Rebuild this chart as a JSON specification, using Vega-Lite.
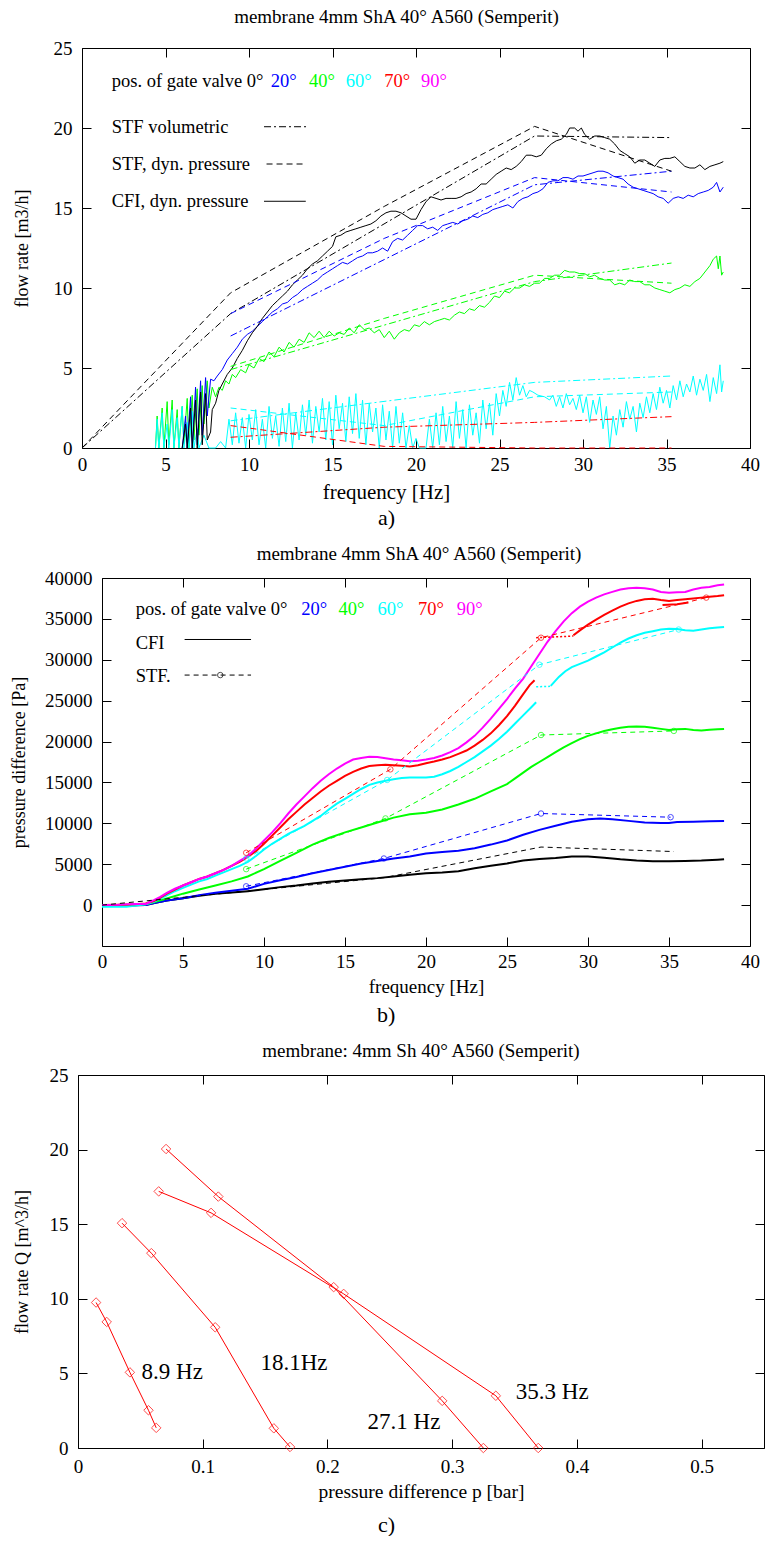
{
"$schema":"https://vega.github.io/schema/vega-lite/v6.json",
"background":"white",
"padding":{"left":10,"top":7,"right":0,"bottom":0},
"spacing":16,
"columns":1,
"datasets":{
"a_cfi":[
{"s":"40°","f":4.4,"q":0},{"s":"40°","f":4.5,"q":2.0},{"s":"40°","f":4.6,"q":0},{"s":"40°","f":4.8,"q":2.5},{"s":"40°","f":4.9,"q":0},{"s":"40°","f":5.1,"q":2.9},{"s":"40°","f":5.2,"q":0.2},{"s":"40°","f":5.4,"q":3.0},{"s":"40°","f":5.5,"q":0},{"s":"40°","f":5.7,"q":2.4},{"s":"40°","f":5.8,"q":0},{"s":"40°","f":6.0,"q":2.6},{"s":"40°","f":6.1,"q":0.3},{"s":"40°","f":6.3,"q":3.1},{"s":"40°","f":6.4,"q":0},{"s":"40°","f":6.6,"q":3.3},{"s":"40°","f":6.7,"q":0.5},{"s":"40°","f":6.9,"q":3.7},{"s":"40°","f":7.0,"q":0.8},{"s":"40°","f":7.2,"q":3.9},{"s":"40°","f":7.3,"q":1.5},{"s":"40°","f":7.5,"q":4.2},{"s":"40°","f":7.6,"q":2.5},{"s":"40°","f":7.8,"q":3.8},{"s":"40°","f":8.0,"q":3.2},{"s":"40°","f":8.2,"q":3.8},{"s":"40°","f":8.4,"q":3.6},{"s":"40°","f":8.6,"q":4.2},{"s":"40°","f":8.8,"q":4.0},{"s":"40°","f":9.0,"q":4.6},{"s":"40°","f":9.2,"q":4.4},{"s":"40°","f":9.5,"q":4.9},{"s":"40°","f":9.8,"q":4.7},{"s":"40°","f":10.0,"q":5.2},{"s":"40°","f":10.3,"q":5.0},{"s":"40°","f":10.6,"q":5.6},{"s":"40°","f":10.9,"q":5.4},{"s":"40°","f":11.2,"q":6.0},{"s":"40°","f":11.5,"q":5.7},{"s":"40°","f":11.8,"q":6.3},{"s":"40°","f":12.1,"q":6.0},{"s":"40°","f":12.4,"q":6.6},{"s":"40°","f":12.7,"q":6.3},{"s":"40°","f":13.0,"q":6.8},{"s":"40°","f":13.3,"q":6.6},{"s":"40°","f":13.6,"q":7.2},{"s":"40°","f":13.9,"q":6.9},{"s":"40°","f":14.2,"q":7.3},{"s":"40°","f":14.5,"q":6.9},{"s":"40°","f":14.8,"q":7.3},{"s":"40°","f":15.1,"q":7.0},{"s":"40°","f":15.4,"q":7.2},{"s":"40°","f":15.7,"q":7.1},{"s":"40°","f":16.0,"q":7.5},{"s":"40°","f":16.3,"q":7.2},{"s":"40°","f":16.6,"q":7.7},{"s":"40°","f":16.9,"q":7.4},{"s":"40°","f":17.2,"q":7.5},{"s":"40°","f":17.5,"q":7.2},{"s":"40°","f":17.8,"q":7.4},{"s":"40°","f":18.1,"q":6.9},{"s":"40°","f":18.4,"q":7.3},{"s":"40°","f":18.7,"q":6.8},{"s":"40°","f":19.0,"q":7.2},{"s":"40°","f":19.3,"q":7.4},{"s":"40°","f":19.6,"q":7.3},{"s":"40°","f":19.9,"q":7.7},{"s":"40°","f":20.2,"q":7.6},{"s":"40°","f":20.5,"q":7.9},{"s":"40°","f":20.8,"q":7.7},{"s":"40°","f":21.1,"q":7.9},{"s":"40°","f":21.4,"q":8.0},{"s":"40°","f":21.7,"q":8.1},{"s":"40°","f":22.0,"q":8.0},{"s":"40°","f":22.3,"q":8.3},{"s":"40°","f":22.6,"q":8.5},{"s":"40°","f":22.9,"q":8.4},{"s":"40°","f":23.2,"q":8.7},{"s":"40°","f":23.5,"q":8.6},{"s":"40°","f":23.8,"q":8.9},{"s":"40°","f":24.1,"q":8.8},{"s":"40°","f":24.4,"q":9.1},{"s":"40°","f":24.7,"q":9.5},{"s":"40°","f":25.0,"q":9.4},{"s":"40°","f":25.3,"q":9.8},{"s":"40°","f":25.6,"q":9.7},{"s":"40°","f":25.9,"q":10.0},{"s":"40°","f":26.2,"q":10.0},{"s":"40°","f":26.5,"q":10.2},{"s":"40°","f":26.8,"q":10.1},{"s":"40°","f":27.1,"q":10.3},{"s":"40°","f":27.4,"q":10.3},{"s":"40°","f":27.7,"q":10.6},{"s":"40°","f":28.0,"q":10.6},{"s":"40°","f":28.3,"q":10.8},{"s":"40°","f":28.6,"q":10.8},{"s":"40°","f":28.9,"q":11.1},{"s":"40°","f":29.2,"q":11.0},{"s":"40°","f":29.5,"q":11.0},{"s":"40°","f":29.8,"q":10.9},{"s":"40°","f":30.1,"q":10.9},{"s":"40°","f":30.4,"q":10.7},{"s":"40°","f":30.7,"q":10.8},{"s":"40°","f":31.0,"q":10.6},{"s":"40°","f":31.3,"q":10.5},{"s":"40°","f":31.6,"q":10.5},{"s":"40°","f":31.9,"q":10.2},{"s":"40°","f":32.2,"q":10.3},{"s":"40°","f":32.5,"q":10.2},{"s":"40°","f":32.8,"q":10.5},{"s":"40°","f":33.1,"q":10.4},{"s":"40°","f":33.4,"q":10.4},{"s":"40°","f":33.7,"q":10.2},{"s":"40°","f":34.0,"q":10.2},{"s":"40°","f":34.3,"q":10.0},{"s":"40°","f":34.6,"q":9.9},{"s":"40°","f":34.9,"q":9.8},{"s":"40°","f":35.2,"q":9.7},{"s":"40°","f":35.5,"q":9.9},{"s":"40°","f":35.8,"q":10.0},{"s":"40°","f":36.1,"q":10.2},{"s":"40°","f":36.4,"q":10.1},{"s":"40°","f":36.7,"q":10.4},{"s":"40°","f":37.0,"q":10.6},{"s":"40°","f":37.3,"q":11.0},{"s":"40°","f":37.6,"q":11.4},{"s":"40°","f":37.8,"q":11.8},{"s":"40°","f":38.0,"q":12.0},{"s":"40°","f":38.1,"q":11.2},{"s":"40°","f":38.2,"q":12.0},{"s":"40°","f":38.3,"q":10.8},{"s":"40°","f":38.4,"q":11.0},
{"s":"60°","f":4.4,"q":0},{"s":"60°","f":4.5,"q":1.8},{"s":"60°","f":4.6,"q":0},{"s":"60°","f":4.8,"q":2.2},{"s":"60°","f":4.9,"q":0},{"s":"60°","f":5.1,"q":1.5},{"s":"60°","f":5.2,"q":0},{"s":"60°","f":5.4,"q":2.4},{"s":"60°","f":5.5,"q":0},{"s":"60°","f":5.7,"q":1.9},{"s":"60°","f":5.8,"q":0},{"s":"60°","f":6.0,"q":2.6},{"s":"60°","f":6.1,"q":0},{"s":"60°","f":6.3,"q":1.6},{"s":"60°","f":6.4,"q":0},{"s":"60°","f":6.6,"q":2.3},{"s":"60°","f":6.7,"q":0},{"s":"60°","f":6.9,"q":1.2},{"s":"60°","f":7.0,"q":0},{"s":"60°","f":7.3,"q":0.8},{"s":"60°","f":7.6,"q":0},{"s":"60°","f":8.0,"q":0},{"s":"60°","f":8.3,"q":0.4},{"s":"60°","f":8.6,"q":0},{"s":"60°","f":8.8,"q":1.8},{"s":"60°","f":9.0,"q":0.2},{"s":"60°","f":9.2,"q":2.2},{"s":"60°","f":9.4,"q":0.3},{"s":"60°","f":9.6,"q":1.9},{"s":"60°","f":9.8,"q":0},{"s":"60°","f":10.0,"q":2.1},{"s":"60°","f":10.2,"q":0.5},{"s":"60°","f":10.4,"q":2.4},{"s":"60°","f":10.6,"q":0.2},{"s":"60°","f":10.8,"q":1.8},{"s":"60°","f":11.0,"q":0},{"s":"60°","f":11.2,"q":2.6},{"s":"60°","f":11.4,"q":0.6},{"s":"60°","f":11.6,"q":2.0},{"s":"60°","f":11.8,"q":0.1},{"s":"60°","f":12.0,"q":2.5},{"s":"60°","f":12.2,"q":0.4},{"s":"60°","f":12.4,"q":2.8},{"s":"60°","f":12.6,"q":0},{"s":"60°","f":12.8,"q":2.2},{"s":"60°","f":13.0,"q":0.5},{"s":"60°","f":13.2,"q":2.7},{"s":"60°","f":13.4,"q":0.8},{"s":"60°","f":13.6,"q":3.0},{"s":"60°","f":13.8,"q":0.3},{"s":"60°","f":14.0,"q":2.6},{"s":"60°","f":14.2,"q":1.0},{"s":"60°","f":14.4,"q":3.1},{"s":"60°","f":14.6,"q":0.5},{"s":"60°","f":14.8,"q":2.9},{"s":"60°","f":15.0,"q":0.2},{"s":"60°","f":15.2,"q":3.3},{"s":"60°","f":15.4,"q":1.2},{"s":"60°","f":15.6,"q":2.8},{"s":"60°","f":15.8,"q":0.4},{"s":"60°","f":16.0,"q":3.2},{"s":"60°","f":16.2,"q":0.9},{"s":"60°","f":16.4,"q":3.4},{"s":"60°","f":16.6,"q":0.6},{"s":"60°","f":16.8,"q":3.0},{"s":"60°","f":17.0,"q":0.2},{"s":"60°","f":17.2,"q":2.8},{"s":"60°","f":17.4,"q":1.0},{"s":"60°","f":17.6,"q":2.5},{"s":"60°","f":17.8,"q":0},{"s":"60°","f":18.0,"q":2.7},{"s":"60°","f":18.2,"q":0.5},{"s":"60°","f":18.4,"q":2.3},{"s":"60°","f":18.6,"q":0},{"s":"60°","f":18.8,"q":2.6},{"s":"60°","f":19.0,"q":0.3},{"s":"60°","f":19.2,"q":2.2},{"s":"60°","f":19.4,"q":0},{"s":"60°","f":19.6,"q":1.4},{"s":"60°","f":19.8,"q":0},{"s":"60°","f":20.0,"q":0.6},{"s":"60°","f":20.2,"q":0},{"s":"60°","f":20.6,"q":0},{"s":"60°","f":20.8,"q":1.8},{"s":"60°","f":21.0,"q":0},{"s":"60°","f":21.2,"q":2.2},{"s":"60°","f":21.4,"q":0.2},{"s":"60°","f":21.6,"q":2.6},{"s":"60°","f":21.8,"q":0.4},{"s":"60°","f":22.0,"q":2.0},{"s":"60°","f":22.2,"q":0},{"s":"60°","f":22.4,"q":2.9},{"s":"60°","f":22.6,"q":0.6},{"s":"60°","f":22.8,"q":2.4},{"s":"60°","f":23.0,"q":0},{"s":"60°","f":23.2,"q":2.7},{"s":"60°","f":23.4,"q":0.8},{"s":"60°","f":23.6,"q":2.2},{"s":"60°","f":23.8,"q":0.3},{"s":"60°","f":24.0,"q":3.0},{"s":"60°","f":24.2,"q":1.2},{"s":"60°","f":24.4,"q":2.8},{"s":"60°","f":24.6,"q":0.8},{"s":"60°","f":24.8,"q":3.4},{"s":"60°","f":25.0,"q":2.0},{"s":"60°","f":25.2,"q":3.6},{"s":"60°","f":25.4,"q":2.6},{"s":"60°","f":25.6,"q":4.1},{"s":"60°","f":25.8,"q":3.0},{"s":"60°","f":26.0,"q":4.4},{"s":"60°","f":26.2,"q":3.3},{"s":"60°","f":26.4,"q":3.9},{"s":"60°","f":26.6,"q":3.2},{"s":"60°","f":26.8,"q":3.6},{"s":"60°","f":27.0,"q":3.5},{"s":"60°","f":27.3,"q":3.3},{"s":"60°","f":27.7,"q":3.2},{"s":"60°","f":28.0,"q":3.0},{"s":"60°","f":28.2,"q":3.3},{"s":"60°","f":28.4,"q":2.6},{"s":"60°","f":28.6,"q":3.2},{"s":"60°","f":28.8,"q":2.5},{"s":"60°","f":29.0,"q":3.4},{"s":"60°","f":29.2,"q":2.7},{"s":"60°","f":29.4,"q":3.1},{"s":"60°","f":29.6,"q":2.4},{"s":"60°","f":29.8,"q":3.3},{"s":"60°","f":30.0,"q":2.2},{"s":"60°","f":30.2,"q":3.2},{"s":"60°","f":30.4,"q":1.6},{"s":"60°","f":30.6,"q":3.0},{"s":"60°","f":30.8,"q":2.1},{"s":"60°","f":31.0,"q":3.2},{"s":"60°","f":31.2,"q":1.2},{"s":"60°","f":31.4,"q":2.6},{"s":"60°","f":31.6,"q":0},{"s":"60°","f":31.8,"q":2.0},{"s":"60°","f":32.0,"q":0.8},{"s":"60°","f":32.2,"q":2.4},{"s":"60°","f":32.4,"q":1.3},{"s":"60°","f":32.6,"q":2.9},{"s":"60°","f":32.8,"q":1.8},{"s":"60°","f":33.0,"q":2.6},{"s":"60°","f":33.2,"q":1.0},{"s":"60°","f":33.4,"q":2.8},{"s":"60°","f":33.6,"q":1.9},{"s":"60°","f":33.8,"q":3.2},{"s":"60°","f":34.0,"q":2.2},{"s":"60°","f":34.2,"q":3.4},{"s":"60°","f":34.4,"q":2.4},{"s":"60°","f":34.6,"q":3.8},{"s":"60°","f":34.8,"q":2.8},{"s":"60°","f":35.0,"q":3.6},{"s":"60°","f":35.2,"q":2.5},{"s":"60°","f":35.4,"q":3.9},{"s":"60°","f":35.6,"q":3.0},{"s":"60°","f":35.8,"q":4.2},{"s":"60°","f":36.0,"q":3.2},{"s":"60°","f":36.2,"q":4.0},{"s":"60°","f":36.4,"q":3.5},{"s":"60°","f":36.6,"q":4.5},{"s":"60°","f":36.8,"q":3.3},{"s":"60°","f":37.0,"q":4.3},{"s":"60°","f":37.2,"q":3.6},{"s":"60°","f":37.4,"q":4.6},{"s":"60°","f":37.6,"q":2.9},{"s":"60°","f":37.8,"q":4.4},{"s":"60°","f":38.0,"q":3.4},{"s":"60°","f":38.2,"q":5.2},{"s":"60°","f":38.3,"q":3.5},{"s":"60°","f":38.4,"q":4.2},
{"s":"20°","f":6.0,"q":0},{"s":"20°","f":6.2,"q":2.0},{"s":"20°","f":6.3,"q":0},{"s":"20°","f":6.5,"q":3.2},{"s":"20°","f":6.6,"q":0},{"s":"20°","f":6.8,"q":3.8},{"s":"20°","f":6.9,"q":0.2},{"s":"20°","f":7.1,"q":4.2},{"s":"20°","f":7.2,"q":0.8},{"s":"20°","f":7.4,"q":4.4},{"s":"20°","f":7.5,"q":2.0},{"s":"20°","f":7.7,"q":4.3},{"s":"20°","f":7.9,"q":4.2},{"s":"20°","f":8.1,"q":4.5},{"s":"20°","f":8.4,"q":4.9},{"s":"20°","f":8.7,"q":5.5},{"s":"20°","f":9.0,"q":5.9},{"s":"20°","f":9.3,"q":6.3},{"s":"20°","f":9.6,"q":6.8},{"s":"20°","f":9.9,"q":7.1},{"s":"20°","f":10.2,"q":7.3},{"s":"20°","f":10.5,"q":7.6},{"s":"20°","f":10.8,"q":7.9},{"s":"20°","f":11.1,"q":8.2},{"s":"20°","f":11.4,"q":8.5},{"s":"20°","f":11.7,"q":8.7},{"s":"20°","f":12.0,"q":9.0},{"s":"20°","f":12.3,"q":9.1},{"s":"20°","f":12.6,"q":9.4},{"s":"20°","f":12.9,"q":9.6},{"s":"20°","f":13.2,"q":9.9},{"s":"20°","f":13.5,"q":10.1},{"s":"20°","f":13.8,"q":10.3},{"s":"20°","f":14.1,"q":10.5},{"s":"20°","f":14.4,"q":10.8},{"s":"20°","f":14.7,"q":11.0},{"s":"20°","f":15.0,"q":11.2},{"s":"20°","f":15.3,"q":11.4},{"s":"20°","f":15.6,"q":11.6},{"s":"20°","f":15.9,"q":11.5},{"s":"20°","f":16.2,"q":11.7},{"s":"20°","f":16.5,"q":11.9},{"s":"20°","f":16.8,"q":12.0},{"s":"20°","f":17.1,"q":12.2},{"s":"20°","f":17.4,"q":12.2},{"s":"20°","f":17.7,"q":12.3},{"s":"20°","f":18.0,"q":12.5},{"s":"20°","f":18.3,"q":12.3},{"s":"20°","f":18.6,"q":12.9},{"s":"20°","f":18.9,"q":13.1},{"s":"20°","f":19.2,"q":13.0},{"s":"20°","f":19.5,"q":13.3},{"s":"20°","f":19.8,"q":13.6},{"s":"20°","f":20.1,"q":13.9},{"s":"20°","f":20.4,"q":13.9},{"s":"20°","f":20.7,"q":13.7},{"s":"20°","f":21.0,"q":13.8},{"s":"20°","f":21.3,"q":13.6},{"s":"20°","f":21.6,"q":13.9},{"s":"20°","f":21.9,"q":14.0},{"s":"20°","f":22.2,"q":14.1},{"s":"20°","f":22.5,"q":14.0},{"s":"20°","f":22.8,"q":14.2},{"s":"20°","f":23.1,"q":14.3},{"s":"20°","f":23.4,"q":14.5},{"s":"20°","f":23.7,"q":14.4},{"s":"20°","f":24.0,"q":14.6},{"s":"20°","f":24.3,"q":14.7},{"s":"20°","f":24.6,"q":14.9},{"s":"20°","f":24.9,"q":15.0},{"s":"20°","f":25.2,"q":15.1},{"s":"20°","f":25.5,"q":15.2},{"s":"20°","f":25.8,"q":15.0},{"s":"20°","f":26.1,"q":15.4},{"s":"20°","f":26.4,"q":15.6},{"s":"20°","f":26.7,"q":15.7},{"s":"20°","f":27.0,"q":15.9},{"s":"20°","f":27.3,"q":16.0},{"s":"20°","f":27.6,"q":16.2},{"s":"20°","f":27.9,"q":16.6},{"s":"20°","f":28.2,"q":16.7},{"s":"20°","f":28.5,"q":16.7},{"s":"20°","f":28.8,"q":16.9},{"s":"20°","f":29.1,"q":16.9},{"s":"20°","f":29.4,"q":16.8},{"s":"20°","f":29.7,"q":17.0},{"s":"20°","f":30.0,"q":17.0},{"s":"20°","f":30.3,"q":17.1},{"s":"20°","f":30.6,"q":17.2},{"s":"20°","f":30.9,"q":17.3},{"s":"20°","f":31.2,"q":17.3},{"s":"20°","f":31.5,"q":17.2},{"s":"20°","f":31.8,"q":17.0},{"s":"20°","f":32.1,"q":16.9},{"s":"20°","f":32.4,"q":16.8},{"s":"20°","f":32.7,"q":16.5},{"s":"20°","f":33.0,"q":16.3},{"s":"20°","f":33.3,"q":16.2},{"s":"20°","f":33.6,"q":16.1},{"s":"20°","f":33.9,"q":16.0},{"s":"20°","f":34.2,"q":15.9},{"s":"20°","f":34.5,"q":15.7},{"s":"20°","f":34.8,"q":15.6},{"s":"20°","f":35.1,"q":15.3},{"s":"20°","f":35.4,"q":15.6},{"s":"20°","f":35.7,"q":15.7},{"s":"20°","f":36.0,"q":15.6},{"s":"20°","f":36.3,"q":15.8},{"s":"20°","f":36.6,"q":15.7},{"s":"20°","f":36.9,"q":15.9},{"s":"20°","f":37.2,"q":16.0},{"s":"20°","f":37.5,"q":16.1},{"s":"20°","f":37.8,"q":16.3},{"s":"20°","f":38.0,"q":16.6},{"s":"20°","f":38.2,"q":16.0},{"s":"20°","f":38.4,"q":16.3},
{"s":"0°","f":6.0,"q":0},{"s":"0°","f":6.2,"q":1.5},{"s":"0°","f":6.3,"q":0},{"s":"0°","f":6.5,"q":2.5},{"s":"0°","f":6.6,"q":0},{"s":"0°","f":6.8,"q":3.0},{"s":"0°","f":6.9,"q":0},{"s":"0°","f":7.1,"q":3.5},{"s":"0°","f":7.2,"q":0.2},{"s":"0°","f":7.4,"q":3.4},{"s":"0°","f":7.5,"q":0.5},{"s":"0°","f":7.7,"q":1.0},{"s":"0°","f":7.8,"q":2.4},{"s":"0°","f":8.0,"q":2.8},{"s":"0°","f":8.2,"q":3.6},{"s":"0°","f":8.4,"q":4.0},{"s":"0°","f":8.7,"q":4.6},{"s":"0°","f":9.0,"q":5.0},{"s":"0°","f":9.3,"q":5.6},{"s":"0°","f":9.6,"q":6.1},{"s":"0°","f":9.9,"q":6.7},{"s":"0°","f":10.2,"q":7.2},{"s":"0°","f":10.5,"q":7.6},{"s":"0°","f":10.8,"q":8.1},{"s":"0°","f":11.1,"q":8.5},{"s":"0°","f":11.4,"q":8.9},{"s":"0°","f":11.7,"q":9.2},{"s":"0°","f":12.0,"q":9.5},{"s":"0°","f":12.3,"q":9.8},{"s":"0°","f":12.6,"q":10.2},{"s":"0°","f":12.9,"q":10.5},{"s":"0°","f":13.2,"q":10.8},{"s":"0°","f":13.5,"q":11.2},{"s":"0°","f":13.8,"q":11.5},{"s":"0°","f":14.1,"q":11.7},{"s":"0°","f":14.4,"q":12.0},{"s":"0°","f":14.7,"q":12.3},{"s":"0°","f":15.0,"q":12.6},{"s":"0°","f":15.2,"q":13.2},{"s":"0°","f":15.5,"q":13.3},{"s":"0°","f":15.8,"q":13.5},{"s":"0°","f":16.1,"q":13.6},{"s":"0°","f":16.4,"q":13.7},{"s":"0°","f":16.7,"q":13.8},{"s":"0°","f":17.0,"q":13.9},{"s":"0°","f":17.3,"q":14.0},{"s":"0°","f":17.6,"q":14.2},{"s":"0°","f":17.9,"q":14.5},{"s":"0°","f":18.2,"q":14.7},{"s":"0°","f":18.5,"q":14.8},{"s":"0°","f":18.8,"q":14.8},{"s":"0°","f":19.1,"q":14.7},{"s":"0°","f":19.4,"q":14.5},{"s":"0°","f":19.7,"q":14.3},{"s":"0°","f":20.0,"q":14.3},{"s":"0°","f":20.3,"q":14.9},{"s":"0°","f":20.6,"q":15.4},{"s":"0°","f":20.9,"q":15.7},{"s":"0°","f":21.2,"q":15.6},{"s":"0°","f":21.5,"q":15.5},{"s":"0°","f":21.8,"q":15.6},{"s":"0°","f":22.1,"q":15.6},{"s":"0°","f":22.4,"q":15.6},{"s":"0°","f":22.7,"q":15.7},{"s":"0°","f":23.0,"q":15.9},{"s":"0°","f":23.3,"q":16.0},{"s":"0°","f":23.6,"q":16.2},{"s":"0°","f":23.9,"q":16.5},{"s":"0°","f":24.2,"q":16.5},{"s":"0°","f":24.5,"q":16.8},{"s":"0°","f":24.8,"q":17.1},{"s":"0°","f":25.1,"q":17.3},{"s":"0°","f":25.4,"q":17.5},{"s":"0°","f":25.7,"q":17.4},{"s":"0°","f":26.0,"q":17.6},{"s":"0°","f":26.3,"q":17.9},{"s":"0°","f":26.6,"q":18.3},{"s":"0°","f":26.9,"q":18.3},{"s":"0°","f":27.2,"q":18.2},{"s":"0°","f":27.5,"q":18.3},{"s":"0°","f":27.8,"q":18.7},{"s":"0°","f":28.1,"q":19.0},{"s":"0°","f":28.4,"q":19.2},{"s":"0°","f":28.7,"q":19.3},{"s":"0°","f":29.0,"q":19.6},{"s":"0°","f":29.2,"q":20.0},{"s":"0°","f":29.5,"q":20.0},{"s":"0°","f":29.7,"q":19.8},{"s":"0°","f":29.9,"q":20.0},{"s":"0°","f":30.1,"q":19.6},{"s":"0°","f":30.4,"q":19.3},{"s":"0°","f":30.7,"q":19.5},{"s":"0°","f":31.0,"q":19.5},{"s":"0°","f":31.3,"q":19.4},{"s":"0°","f":31.6,"q":19.3},{"s":"0°","f":31.9,"q":19.0},{"s":"0°","f":32.2,"q":18.6},{"s":"0°","f":32.5,"q":18.4},{"s":"0°","f":32.8,"q":18.2},{"s":"0°","f":33.1,"q":17.8},{"s":"0°","f":33.4,"q":18.0},{"s":"0°","f":33.7,"q":18.0},{"s":"0°","f":34.0,"q":17.8},{"s":"0°","f":34.3,"q":17.6},{"s":"0°","f":34.6,"q":18.0},{"s":"0°","f":34.9,"q":18.1},{"s":"0°","f":35.2,"q":18.1},{"s":"0°","f":35.5,"q":18.2},{"s":"0°","f":35.8,"q":17.9},{"s":"0°","f":36.1,"q":17.6},{"s":"0°","f":36.4,"q":17.5},{"s":"0°","f":36.7,"q":17.5},{"s":"0°","f":37.0,"q":17.7},{"s":"0°","f":37.3,"q":17.4},{"s":"0°","f":37.6,"q":17.6},{"s":"0°","f":37.9,"q":17.7},{"s":"0°","f":38.2,"q":17.8},{"s":"0°","f":38.4,"q":17.9}
],
"a_vol":[
{"s":"0°","f":0,"q":0},{"s":"0°","f":8.9,"q":8.4},{"s":"0°","f":27.1,"q":19.5},{"s":"0°","f":35.3,"q":19.4},
{"s":"20°","f":8.9,"q":7.0},{"s":"20°","f":27.1,"q":16.45},{"s":"20°","f":35.3,"q":17.3},
{"s":"40°","f":8.9,"q":4.9},{"s":"40°","f":27.1,"q":10.4},{"s":"40°","f":35.3,"q":11.56},
{"s":"60°","f":8.9,"q":1.7},{"s":"60°","f":27.1,"q":4.1},{"s":"60°","f":35.3,"q":4.5},
{"s":"70°","f":8.9,"q":0.67},{"s":"70°","f":18.1,"q":1.3},{"s":"70°","f":27.1,"q":1.6},{"s":"70°","f":35.3,"q":1.96}
],
"a_dyn":[
{"s":"0°","f":0,"q":0},{"s":"0°","f":8.9,"q":9.7},{"s":"0°","f":18.1,"q":15.1},{"s":"0°","f":27.1,"q":20.1},{"s":"0°","f":35.3,"q":17.3},
{"s":"20°","f":8.9,"q":8.4},{"s":"20°","f":18.1,"q":13.1},{"s":"20°","f":27.1,"q":16.9},{"s":"20°","f":35.3,"q":16.0},
{"s":"40°","f":8.9,"q":5.1},{"s":"40°","f":18.1,"q":8.1},{"s":"40°","f":27.1,"q":10.8},{"s":"40°","f":35.3,"q":10.3},
{"s":"60°","f":8.9,"q":2.5},{"s":"60°","f":18.1,"q":1.4},{"s":"60°","f":27.1,"q":3.2},{"s":"60°","f":35.3,"q":3.5},
{"s":"70°","f":8.9,"q":1.4},{"s":"70°","f":18.1,"q":0.1},{"s":"70°","f":27.1,"q":0},{"s":"70°","f":35.3,"q":0}
],
"a_leg":[
{"t":"pos. of gate valve 0°","f":1.78,"q":22.96,"s":"0°"},{"t":"20°","f":11.3,"q":22.96,"s":"20°"},{"t":"40°","f":13.6,"q":22.96,"s":"40°"},{"t":"60°","f":15.8,"q":22.96,"s":"60°"},{"t":"70°","f":18.1,"q":22.96,"s":"70°"},{"t":"90°","f":20.3,"q":22.96,"s":"90°"},
{"t":"STF volumetric","f":1.78,"q":20.08,"s":"0°"},{"t":"STF, dyn. pressure","f":1.78,"q":17.75,"s":"0°"},{"t":"CFI, dyn. pressure","f":1.78,"q":15.42,"s":"0°"}
],
"a_samp":[
{"k":"vol","f":10.9,"f2":13.5,"q":20.08},{"k":"dyn","f":11.05,"f2":13.25,"q":17.75},{"k":"cfi","f":10.9,"f2":13.4,"q":15.42}
],
"b_cfi":[
{"s":"0°","g":"0a","f":0,"p":-80},{"s":"0°","g":"0a","f":2.7,"p":0},{"s":"0°","g":"0a","f":3.3,"p":300},{"s":"0°","g":"0a","f":4,"p":550},{"s":"0°","g":"0a","f":5,"p":850},{"s":"0°","g":"0a","f":6,"p":1150},{"s":"0°","g":"0a","f":7,"p":1400},{"s":"0°","g":"0a","f":8,"p":1550},{"s":"0°","g":"0a","f":9,"p":1700},{"s":"0°","g":"0a","f":10,"p":1950},{"s":"0°","g":"0a","f":11,"p":2200},{"s":"0°","g":"0a","f":12,"p":2400},{"s":"0°","g":"0a","f":13,"p":2650},{"s":"0°","g":"0a","f":14,"p":2850},{"s":"0°","g":"0a","f":15,"p":3000},{"s":"0°","g":"0a","f":16,"p":3150},{"s":"0°","g":"0a","f":17,"p":3300},{"s":"0°","g":"0a","f":18,"p":3500},{"s":"0°","g":"0a","f":19,"p":3700},{"s":"0°","g":"0a","f":20,"p":3900},{"s":"0°","g":"0a","f":21,"p":4000},{"s":"0°","g":"0a","f":22,"p":4150},{"s":"0°","g":"0a","f":23,"p":4500},{"s":"0°","g":"0a","f":24,"p":4800},{"s":"0°","g":"0a","f":25,"p":5100},{"s":"0°","g":"0a","f":26,"p":5450},{"s":"0°","g":"0a","f":27,"p":5650},{"s":"0°","g":"0a","f":28,"p":5750},{"s":"0°","g":"0a","f":29,"p":5950},{"s":"0°","g":"0a","f":30,"p":5950},{"s":"0°","g":"0a","f":31,"p":5800},{"s":"0°","g":"0a","f":32,"p":5600},{"s":"0°","g":"0a","f":33,"p":5450},{"s":"0°","g":"0a","f":34,"p":5350},{"s":"0°","g":"0a","f":35,"p":5350},{"s":"0°","g":"0a","f":36,"p":5400},{"s":"0°","g":"0a","f":37,"p":5450},{"s":"0°","g":"0a","f":38,"p":5550},{"s":"0°","g":"0a","f":38.4,"p":5600},
{"s":"20°","g":"20a","f":0,"p":-80},{"s":"20°","g":"20a","f":2.7,"p":0},{"s":"20°","g":"20a","f":3.3,"p":300},{"s":"20°","g":"20a","f":4,"p":550},{"s":"20°","g":"20a","f":5,"p":850},{"s":"20°","g":"20a","f":6,"p":1200},{"s":"20°","g":"20a","f":7,"p":1500},{"s":"20°","g":"20a","f":8,"p":1750},{"s":"20°","g":"20a","f":9,"p":2000},{"s":"20°","g":"20a","f":10,"p":2600},{"s":"20°","g":"20a","f":11,"p":3050},{"s":"20°","g":"20a","f":12,"p":3450},{"s":"20°","g":"20a","f":13,"p":3900},{"s":"20°","g":"20a","f":14,"p":4300},{"s":"20°","g":"20a","f":15,"p":4700},{"s":"20°","g":"20a","f":16,"p":5100},{"s":"20°","g":"20a","f":17,"p":5400},{"s":"20°","g":"20a","f":18,"p":5700},{"s":"20°","g":"20a","f":19,"p":5950},{"s":"20°","g":"20a","f":20,"p":6300},{"s":"20°","g":"20a","f":21,"p":6500},{"s":"20°","g":"20a","f":22,"p":6650},{"s":"20°","g":"20a","f":23,"p":6950},{"s":"20°","g":"20a","f":24,"p":7400},{"s":"20°","g":"20a","f":25,"p":7900},{"s":"20°","g":"20a","f":26,"p":8600},{"s":"20°","g":"20a","f":27,"p":9200},{"s":"20°","g":"20a","f":28,"p":9700},{"s":"20°","g":"20a","f":29,"p":10200},{"s":"20°","g":"20a","f":30,"p":10500},{"s":"20°","g":"20a","f":30.75,"p":10600},{"s":"20°","g":"20a","f":31.5,"p":10500},{"s":"20°","g":"20a","f":32.5,"p":10300},{"s":"20°","g":"20a","f":33.5,"p":10100},{"s":"20°","g":"20a","f":34.5,"p":10050},{"s":"20°","g":"20a","f":35,"p":10050},{"s":"20°","g":"20a","f":35.5,"p":10150},{"s":"20°","g":"20a","f":36.5,"p":10200},{"s":"20°","g":"20a","f":37.5,"p":10250},{"s":"20°","g":"20a","f":38.4,"p":10300},
{"s":"40°","g":"40a","f":0,"p":-80},{"s":"40°","g":"40a","f":1.5,"p":-100},{"s":"40°","g":"40a","f":2.7,"p":100},{"s":"40°","g":"40a","f":3.3,"p":400},{"s":"40°","g":"40a","f":4,"p":800},{"s":"40°","g":"40a","f":5,"p":1400},{"s":"40°","g":"40a","f":6,"p":1900},{"s":"40°","g":"40a","f":7,"p":2400},{"s":"40°","g":"40a","f":8,"p":2900},{"s":"40°","g":"40a","f":9,"p":3500},{"s":"40°","g":"40a","f":10,"p":4400},{"s":"40°","g":"40a","f":11,"p":5400},{"s":"40°","g":"40a","f":12,"p":6400},{"s":"40°","g":"40a","f":13,"p":7400},{"s":"40°","g":"40a","f":14,"p":8200},{"s":"40°","g":"40a","f":15,"p":8900},{"s":"40°","g":"40a","f":16,"p":9500},{"s":"40°","g":"40a","f":17,"p":10100},{"s":"40°","g":"40a","f":18,"p":10700},{"s":"40°","g":"40a","f":19,"p":11100},{"s":"40°","g":"40a","f":20,"p":11300},{"s":"40°","g":"40a","f":21,"p":11700},{"s":"40°","g":"40a","f":22,"p":12300},{"s":"40°","g":"40a","f":23,"p":13000},{"s":"40°","g":"40a","f":24,"p":13900},{"s":"40°","g":"40a","f":25,"p":14800},{"s":"40°","g":"40a","f":25.5,"p":15500},{"s":"40°","g":"40a","f":26,"p":16200},{"s":"40°","g":"40a","f":26.5,"p":16900},{"s":"40°","g":"40a","f":27,"p":17500},{"s":"40°","g":"40a","f":27.5,"p":18100},{"s":"40°","g":"40a","f":28,"p":18700},{"s":"40°","g":"40a","f":28.5,"p":19300},{"s":"40°","g":"40a","f":29,"p":19800},{"s":"40°","g":"40a","f":29.5,"p":20300},{"s":"40°","g":"40a","f":30,"p":20700},{"s":"40°","g":"40a","f":30.5,"p":21000},{"s":"40°","g":"40a","f":31,"p":21300},{"s":"40°","g":"40a","f":31.5,"p":21500},{"s":"40°","g":"40a","f":32,"p":21700},{"s":"40°","g":"40a","f":32.5,"p":21800},{"s":"40°","g":"40a","f":33,"p":21850},{"s":"40°","g":"40a","f":33.5,"p":21800},{"s":"40°","g":"40a","f":34,"p":21700},{"s":"40°","g":"40a","f":34.5,"p":21550},{"s":"40°","g":"40a","f":35,"p":21400},{"s":"40°","g":"40a","f":35.5,"p":21500},{"s":"40°","g":"40a","f":36,"p":21550},{"s":"40°","g":"40a","f":36.5,"p":21400},{"s":"40°","g":"40a","f":37,"p":21350},{"s":"40°","g":"40a","f":37.5,"p":21450},{"s":"40°","g":"40a","f":38,"p":21500},{"s":"40°","g":"40a","f":38.4,"p":21550},
{"s":"60°","g":"60a","f":0,"p":-200},{"s":"60°","g":"60a","f":1.5,"p":-200},{"s":"60°","g":"60a","f":2.7,"p":100},{"s":"60°","g":"60a","f":3.2,"p":400},{"s":"60°","g":"60a","f":3.6,"p":800},{"s":"60°","g":"60a","f":4,"p":1200},{"s":"60°","g":"60a","f":4.5,"p":1700},{"s":"60°","g":"60a","f":5,"p":2100},{"s":"60°","g":"60a","f":5.5,"p":2500},{"s":"60°","g":"60a","f":6,"p":2900},{"s":"60°","g":"60a","f":6.5,"p":3200},{"s":"60°","g":"60a","f":7,"p":3600},{"s":"60°","g":"60a","f":7.5,"p":4000},{"s":"60°","g":"60a","f":8,"p":4400},{"s":"60°","g":"60a","f":8.5,"p":4800},{"s":"60°","g":"60a","f":9,"p":5300},{"s":"60°","g":"60a","f":9.5,"p":6000},{"s":"60°","g":"60a","f":10,"p":6800},{"s":"60°","g":"60a","f":10.5,"p":7500},{"s":"60°","g":"60a","f":11,"p":8100},{"s":"60°","g":"60a","f":11.5,"p":8700},{"s":"60°","g":"60a","f":12,"p":9200},{"s":"60°","g":"60a","f":12.5,"p":9700},{"s":"60°","g":"60a","f":13,"p":10300},{"s":"60°","g":"60a","f":13.5,"p":10900},{"s":"60°","g":"60a","f":14,"p":11700},{"s":"60°","g":"60a","f":14.5,"p":12400},{"s":"60°","g":"60a","f":15,"p":13000},{"s":"60°","g":"60a","f":15.5,"p":13600},{"s":"60°","g":"60a","f":16,"p":14200},{"s":"60°","g":"60a","f":16.5,"p":14700},{"s":"60°","g":"60a","f":17,"p":15000},{"s":"60°","g":"60a","f":17.5,"p":15200},{"s":"60°","g":"60a","f":18,"p":15400},{"s":"60°","g":"60a","f":18.5,"p":15550},{"s":"60°","g":"60a","f":19,"p":15600},{"s":"60°","g":"60a","f":19.5,"p":15600},{"s":"60°","g":"60a","f":20,"p":15600},{"s":"60°","g":"60a","f":20.5,"p":15700},{"s":"60°","g":"60a","f":21,"p":16000},{"s":"60°","g":"60a","f":21.5,"p":16400},{"s":"60°","g":"60a","f":22,"p":16900},{"s":"60°","g":"60a","f":22.5,"p":17500},{"s":"60°","g":"60a","f":23,"p":18100},{"s":"60°","g":"60a","f":23.5,"p":18800},{"s":"60°","g":"60a","f":24,"p":19500},{"s":"60°","g":"60a","f":24.5,"p":20300},{"s":"60°","g":"60a","f":25,"p":21200},{"s":"60°","g":"60a","f":25.5,"p":22200},{"s":"60°","g":"60a","f":26,"p":23200},{"s":"60°","g":"60a","f":26.5,"p":24200},{"s":"60°","g":"60a","f":26.8,"p":24800},
{"s":"60°","g":"60b","f":27.7,"p":26800},{"s":"60°","g":"60b","f":28.2,"p":27900},{"s":"60°","g":"60b","f":28.6,"p":28600},{"s":"60°","g":"60b","f":29,"p":29100},{"s":"60°","g":"60b","f":29.5,"p":29500},{"s":"60°","g":"60b","f":30,"p":29900},{"s":"60°","g":"60b","f":30.5,"p":30400},{"s":"60°","g":"60b","f":31,"p":30900},{"s":"60°","g":"60b","f":31.5,"p":31500},{"s":"60°","g":"60b","f":32,"p":32100},{"s":"60°","g":"60b","f":32.5,"p":32600},{"s":"60°","g":"60b","f":33,"p":33000},{"s":"60°","g":"60b","f":33.5,"p":33300},{"s":"60°","g":"60b","f":34,"p":33500},{"s":"60°","g":"60b","f":34.5,"p":33700},{"s":"60°","g":"60b","f":35,"p":33800},{"s":"60°","g":"60b","f":35.5,"p":33750},{"s":"60°","g":"60b","f":36,"p":33600},{"s":"60°","g":"60b","f":36.5,"p":33550},{"s":"60°","g":"60b","f":37,"p":33700},{"s":"60°","g":"60b","f":37.5,"p":33850},{"s":"60°","g":"60b","f":38,"p":33950},{"s":"60°","g":"60b","f":38.4,"p":34000},
{"s":"70°","g":"70a","f":0,"p":0},{"s":"70°","g":"70a","f":1,"p":50},{"s":"70°","g":"70a","f":2,"p":100},{"s":"70°","g":"70a","f":2.7,"p":200},{"s":"70°","g":"70a","f":3.2,"p":500},{"s":"70°","g":"70a","f":3.6,"p":900},{"s":"70°","g":"70a","f":4,"p":1400},{"s":"70°","g":"70a","f":4.5,"p":1900},{"s":"70°","g":"70a","f":5,"p":2400},{"s":"70°","g":"70a","f":5.5,"p":2800},{"s":"70°","g":"70a","f":6,"p":3200},{"s":"70°","g":"70a","f":6.5,"p":3500},{"s":"70°","g":"70a","f":7,"p":3900},{"s":"70°","g":"70a","f":7.5,"p":4300},{"s":"70°","g":"70a","f":8,"p":4800},{"s":"70°","g":"70a","f":8.5,"p":5300},{"s":"70°","g":"70a","f":9,"p":5900},{"s":"70°","g":"70a","f":9.5,"p":6600},{"s":"70°","g":"70a","f":10,"p":7500},{"s":"70°","g":"70a","f":10.5,"p":8500},{"s":"70°","g":"70a","f":11,"p":9500},{"s":"70°","g":"70a","f":11.5,"p":10500},{"s":"70°","g":"70a","f":12,"p":11400},{"s":"70°","g":"70a","f":12.5,"p":12300},{"s":"70°","g":"70a","f":13,"p":13100},{"s":"70°","g":"70a","f":13.5,"p":13900},{"s":"70°","g":"70a","f":14,"p":14600},{"s":"70°","g":"70a","f":14.5,"p":15200},{"s":"70°","g":"70a","f":15,"p":15800},{"s":"70°","g":"70a","f":15.5,"p":16300},{"s":"70°","g":"70a","f":16,"p":16700},{"s":"70°","g":"70a","f":16.5,"p":17000},{"s":"70°","g":"70a","f":17,"p":17100},{"s":"70°","g":"70a","f":17.5,"p":17150},{"s":"70°","g":"70a","f":18,"p":17100},{"s":"70°","g":"70a","f":18.5,"p":17050},{"s":"70°","g":"70a","f":19,"p":16950},{"s":"70°","g":"70a","f":19.5,"p":17100},{"s":"70°","g":"70a","f":20,"p":17350},{"s":"70°","g":"70a","f":20.5,"p":17550},{"s":"70°","g":"70a","f":21,"p":17800},{"s":"70°","g":"70a","f":21.5,"p":18100},{"s":"70°","g":"70a","f":22,"p":18500},{"s":"70°","g":"70a","f":22.5,"p":18900},{"s":"70°","g":"70a","f":23,"p":19500},{"s":"70°","g":"70a","f":23.5,"p":20200},{"s":"70°","g":"70a","f":24,"p":21000},{"s":"70°","g":"70a","f":24.5,"p":22000},{"s":"70°","g":"70a","f":25,"p":23100},{"s":"70°","g":"70a","f":25.5,"p":24400},{"s":"70°","g":"70a","f":26,"p":25800},{"s":"70°","g":"70a","f":26.4,"p":26900},{"s":"70°","g":"70a","f":26.7,"p":27500},
{"s":"70°","g":"70b","f":29.1,"p":33000},{"s":"70°","g":"70b","f":29.5,"p":33600},{"s":"70°","g":"70b","f":30,"p":34300},{"s":"70°","g":"70b","f":30.5,"p":34900},{"s":"70°","g":"70b","f":31,"p":35500},{"s":"70°","g":"70b","f":31.5,"p":36000},{"s":"70°","g":"70b","f":32,"p":36500},{"s":"70°","g":"70b","f":32.5,"p":36900},{"s":"70°","g":"70b","f":33,"p":37200},{"s":"70°","g":"70b","f":33.5,"p":37400},{"s":"70°","g":"70b","f":34,"p":37450},{"s":"70°","g":"70b","f":34.5,"p":37300},{"s":"70°","g":"70b","f":35,"p":37200},{"s":"70°","g":"70b","f":35.5,"p":37300},{"s":"70°","g":"70b","f":36,"p":37400},{"s":"70°","g":"70b","f":36.5,"p":37500},{"s":"70°","g":"70b","f":37,"p":37600},{"s":"70°","g":"70b","f":37.5,"p":37700},{"s":"70°","g":"70b","f":38,"p":37800},{"s":"70°","g":"70b","f":38.4,"p":37900},
{"s":"70°","g":"70c","f":34.6,"p":36700},{"s":"70°","g":"70c","f":35.5,"p":36800},{"s":"70°","g":"70c","f":36.2,"p":37000},
{"s":"90°","g":"90a","f":0,"p":0},{"s":"90°","g":"90a","f":1,"p":50},{"s":"90°","g":"90a","f":2,"p":150},{"s":"90°","g":"90a","f":2.7,"p":150},{"s":"90°","g":"90a","f":3.2,"p":600},{"s":"90°","g":"90a","f":3.6,"p":1000},{"s":"90°","g":"90a","f":4,"p":1500},{"s":"90°","g":"90a","f":4.5,"p":2000},{"s":"90°","g":"90a","f":5,"p":2400},{"s":"90°","g":"90a","f":5.5,"p":2800},{"s":"90°","g":"90a","f":6,"p":3200},{"s":"90°","g":"90a","f":6.5,"p":3500},{"s":"90°","g":"90a","f":7,"p":3900},{"s":"90°","g":"90a","f":7.5,"p":4300},{"s":"90°","g":"90a","f":8,"p":4800},{"s":"90°","g":"90a","f":8.5,"p":5400},{"s":"90°","g":"90a","f":9,"p":6000},{"s":"90°","g":"90a","f":9.5,"p":6900},{"s":"90°","g":"90a","f":10,"p":7900},{"s":"90°","g":"90a","f":10.5,"p":8900},{"s":"90°","g":"90a","f":11,"p":10000},{"s":"90°","g":"90a","f":11.5,"p":11200},{"s":"90°","g":"90a","f":12,"p":12300},{"s":"90°","g":"90a","f":12.5,"p":13300},{"s":"90°","g":"90a","f":13,"p":14300},{"s":"90°","g":"90a","f":13.5,"p":15200},{"s":"90°","g":"90a","f":14,"p":16000},{"s":"90°","g":"90a","f":14.5,"p":16700},{"s":"90°","g":"90a","f":15,"p":17300},{"s":"90°","g":"90a","f":15.5,"p":17800},{"s":"90°","g":"90a","f":16,"p":18000},{"s":"90°","g":"90a","f":16.5,"p":18150},{"s":"90°","g":"90a","f":17,"p":18100},{"s":"90°","g":"90a","f":17.5,"p":17950},{"s":"90°","g":"90a","f":18,"p":17800},{"s":"90°","g":"90a","f":18.5,"p":17700},{"s":"90°","g":"90a","f":19,"p":17600},{"s":"90°","g":"90a","f":19.5,"p":17650},{"s":"90°","g":"90a","f":20,"p":17800},{"s":"90°","g":"90a","f":20.5,"p":18000},{"s":"90°","g":"90a","f":21,"p":18300},{"s":"90°","g":"90a","f":21.5,"p":18700},{"s":"90°","g":"90a","f":22,"p":19200},{"s":"90°","g":"90a","f":22.5,"p":19900},{"s":"90°","g":"90a","f":23,"p":20700},{"s":"90°","g":"90a","f":23.5,"p":21700},{"s":"90°","g":"90a","f":24,"p":22800},{"s":"90°","g":"90a","f":24.5,"p":24000},{"s":"90°","g":"90a","f":25,"p":25200},{"s":"90°","g":"90a","f":25.5,"p":26500},{"s":"90°","g":"90a","f":26,"p":27700},{"s":"90°","g":"90a","f":26.5,"p":29200},{"s":"90°","g":"90a","f":27,"p":30700},{"s":"90°","g":"90a","f":27.5,"p":32200},{"s":"90°","g":"90a","f":28,"p":33500},{"s":"90°","g":"90a","f":28.5,"p":34700},{"s":"90°","g":"90a","f":29,"p":35700},{"s":"90°","g":"90a","f":29.5,"p":36500},{"s":"90°","g":"90a","f":30,"p":37100},{"s":"90°","g":"90a","f":30.5,"p":37600},{"s":"90°","g":"90a","f":31,"p":38000},{"s":"90°","g":"90a","f":31.5,"p":38300},{"s":"90°","g":"90a","f":32,"p":38600},{"s":"90°","g":"90a","f":32.5,"p":38750},{"s":"90°","g":"90a","f":33,"p":38800},{"s":"90°","g":"90a","f":33.5,"p":38750},{"s":"90°","g":"90a","f":34,"p":38600},{"s":"90°","g":"90a","f":34.5,"p":38300},{"s":"90°","g":"90a","f":35,"p":38200},{"s":"90°","g":"90a","f":35.5,"p":38250},{"s":"90°","g":"90a","f":36,"p":38300},{"s":"90°","g":"90a","f":36.5,"p":38600},{"s":"90°","g":"90a","f":37,"p":38800},{"s":"90°","g":"90a","f":37.5,"p":38900},{"s":"90°","g":"90a","f":38,"p":39100},{"s":"90°","g":"90a","f":38.4,"p":39200}
],
"b_stf":[
{"s":"0°","f":0,"p":0},{"s":"0°","f":8.9,"p":1700},{"s":"0°","f":17.4,"p":3350},{"s":"0°","f":27.1,"p":7100},{"s":"0°","f":35.3,"p":6550},
{"s":"20°","f":8.9,"p":2300},{"s":"20°","f":17.4,"p":5700},{"s":"20°","f":27.1,"p":11200},{"s":"20°","f":35.1,"p":10750},
{"s":"40°","f":8.9,"p":4400},{"s":"40°","f":17.5,"p":10600},{"s":"40°","f":27.1,"p":20800},{"s":"40°","f":35.3,"p":21300},
{"s":"60°","f":8.9,"p":5700},{"s":"60°","f":17.6,"p":15300},{"s":"60°","f":27.0,"p":29400},{"s":"60°","f":35.6,"p":33700},
{"s":"70°","f":8.9,"p":6400},{"s":"70°","f":17.8,"p":16600},{"s":"70°","f":27.1,"p":32700},{"s":"70°","f":37.3,"p":37600}
],
"b_dot":[
{"s":"70°","f":26.8,"p":32700},{"s":"70°","f":29.1,"p":32900},
{"s":"60°","f":26.8,"p":26700},{"s":"60°","f":27.7,"p":26750}
],
"b_leg":[
{"t":"pos. of gate valve 0°","f":2.08,"p":36260,"s":"0°"},{"t":"20°","f":12.3,"p":36260,"s":"20°"},{"t":"40°","f":14.6,"p":36260,"s":"40°"},{"t":"60°","f":17.0,"p":36260,"s":"60°"},{"t":"70°","f":19.5,"p":36260,"s":"70°"},{"t":"90°","f":21.9,"p":36260,"s":"90°"},
{"t":"CFI","f":2.08,"p":32110,"s":"0°"},{"t":"STF.","f":2.08,"p":28050,"s":"0°"}
],
"b_samp_cfi":[{"f":5.1,"f2":9.2,"p":32480}],
"b_samp_stf":[{"f":5.1,"f2":9.2,"p":28130}],
"b_samppt":[{"f":7.3,"p":28130}],
"c_pts":[
{"hz":"8.9","p":0.0145,"q":9.75},{"hz":"8.9","p":0.023,"q":8.45},{"hz":"8.9","p":0.0416,"q":5.07},{"hz":"8.9","p":0.0565,"q":2.53},{"hz":"8.9","p":0.0627,"q":1.35},
{"hz":"18.1","p":0.0353,"q":15.07},{"hz":"18.1","p":0.0588,"q":13.06},{"hz":"18.1","p":0.110,"q":8.09},{"hz":"18.1","p":0.157,"q":1.32},{"hz":"18.1","p":0.170,"q":0.07},
{"hz":"27.1","p":0.0706,"q":20.04},{"hz":"27.1","p":0.1125,"q":16.85},{"hz":"27.1","p":0.205,"q":10.78},{"hz":"27.1","p":0.292,"q":3.16},{"hz":"27.1","p":0.325,"q":0},
{"hz":"35.3","p":0.0647,"q":17.2},{"hz":"35.3","p":0.1067,"q":15.76},{"hz":"35.3","p":0.213,"q":10.33},{"hz":"35.3","p":0.335,"q":3.5},{"hz":"35.3","p":0.369,"q":0}
],
"c_lab":[
{"t":"8.9 Hz","p":0.051,"q":5.07},{"t":"18.1Hz","p":0.1463,"q":5.67},{"t":"27.1 Hz","p":0.2322,"q":1.75},{"t":"35.3 Hz","p":0.351,"q":3.72}
]
},
"concat":[
{"title":{"text":"a)","orient":"bottom","fontSize":22,"anchor":"start","dx":365,"offset":6},
 "vconcat":[{
  "title":{"text":"membrane 4mm ShA 40° A560 (Semperit)","frame":"group","dx":-17.5,"offset":12.5},
  "width":672,"height":400,
  "resolve":{"axis":{"x":"independent","y":"independent"}},
  "layer":[
   {"data":{"name":"a_cfi"},"mark":{"type":"line","strokeWidth":1},
    "encoding":{
     "x":{"field":"f","type":"quantitative","scale":{"domain":[0,40],"range":[4,672],"nice":false,"zero":false},"axis":{"values":[0,5,10,15,20,25,30,35,40],"format":"~g","title":"frequency [Hz]","labelFont":"Liberation Serif, serif","titleFont":"Liberation Serif, serif","labelFontSize":19,"titleFontSize":21,"titleX":308,"labelPadding":16,"titlePadding":7}},
     "y":{"field":"q","type":"quantitative","scale":{"domain":[0,25],"nice":false,"zero":false},"axis":{"values":[0,5,10,15,20,25],"format":"~g","title":"flow rate [m3/h]","offset":-4,"labelFont":"Liberation Serif, serif","titleFont":"Liberation Serif, serif","labelFontSize":19,"titleFontSize":18,"labelPadding":19,"titlePadding":22}},
     "color":{"field":"s","type":"nominal","scale":{"domain":["0°","20°","40°","60°","70°","90°"],"range":["#000000","#0000ff","#00ff00","#00ffff","#ff0000","#ff00ff"]},"legend":null}}},
   {"data":{"name":"a_vol"},"mark":{"type":"line","strokeWidth":1,"strokeDash":[7,3,2,3]},
    "encoding":{
     "x":{"field":"f","type":"quantitative","axis":{"orient":"top","labels":false,"title":null,"values":[0,5,10,15,20,25,30,35,40]}},
     "y":{"field":"q","type":"quantitative","axis":{"orient":"right","labels":false,"title":null,"values":[0,5,10,15,20,25]}},
     "color":{"field":"s","type":"nominal","legend":null}}},
   {"data":{"name":"a_dyn"},"mark":{"type":"line","strokeWidth":1,"strokeDash":[6,4]},
    "encoding":{
     "x":{"field":"f","type":"quantitative","axis":null},
     "y":{"field":"q","type":"quantitative","axis":null},
     "color":{"field":"s","type":"nominal","legend":null}}},
   {"data":{"name":"a_leg"},"mark":{"type":"text","align":"left","baseline":"middle","fontSize":18.5,"font":"Liberation Serif"},
    "encoding":{
     "x":{"field":"f","type":"quantitative","axis":null},
     "y":{"field":"q","type":"quantitative","axis":null},
     "text":{"field":"t"},
     "color":{"field":"s","type":"nominal","legend":null}}},
   {"data":{"name":"a_samp"},"mark":{"type":"rule","color":"#000000","strokeWidth":1},
    "encoding":{
     "x":{"field":"f","type":"quantitative","axis":null},
     "x2":{"field":"f2"},
     "y":{"field":"q","type":"quantitative","axis":null},
     "strokeDash":{"field":"k","type":"nominal","scale":{"domain":["vol","dyn","cfi"],"range":[[7,3,2,3],[6,4],[1,0]]},"legend":null}}}
  ]
 }]
},
{"title":{"text":"b)","orient":"bottom","fontSize":22,"anchor":"start","dx":367,"offset":9},
 "vconcat":[{
  "title":{"text":"membrane 4mm ShA 40° A560 (Semperit)","frame":"group","dx":5,"offset":5},
  "width":672,"height":368,
  "resolve":{"axis":{"x":"independent","y":"independent"}},
  "layer":[
   {"data":{"name":"b_cfi"},"mark":{"type":"line","strokeWidth":2},
    "encoding":{
     "x":{"field":"f","type":"quantitative","scale":{"domain":[0,40],"range":[24,672],"nice":false,"zero":false},"axis":{"values":[0,5,10,15,20,25,30,35,40],"format":"~g","title":"frequency [Hz]","labelFont":"Liberation Serif, serif","titleFont":"Liberation Serif, serif","labelFontSize":19,"titleFontSize":19,"labelPadding":15,"titlePadding":6}},
     "y":{"field":"p","type":"quantitative","scale":{"domain":[-5000,40000],"nice":false,"zero":false},"axis":{"values":[0,5000,10000,15000,20000,25000,30000,35000,40000],"format":"d","title":"pressure difference [Pa]","offset":-24,"labelFont":"Liberation Serif, serif","titleFont":"Liberation Serif, serif","labelFontSize":19,"titleFontSize":18,"labelPadding":19,"titlePadding":16.5}},
     "color":{"field":"s","type":"nominal","scale":{"domain":["0°","20°","40°","60°","70°","90°"],"range":["#000000","#0000ff","#00ff00","#00ffff","#ff0000","#ff00ff"]},"legend":null},
     "detail":{"field":"g","type":"nominal"}}},
   {"data":{"name":"b_stf"},"mark":{"type":"line","strokeWidth":1,"strokeDash":[5,4]},
    "encoding":{
     "x":{"field":"f","type":"quantitative","axis":{"orient":"top","labels":false,"title":null,"values":[0,5,10,15,20,25,30,35,40]}},
     "y":{"field":"p","type":"quantitative","axis":{"orient":"right","labels":false,"title":null,"values":[0,5000,10000,15000,20000,25000,30000,35000,40000]}},
     "color":{"field":"s","type":"nominal","legend":null}}},
   {"data":{"name":"b_stf"},"transform":[{"filter":"datum.f > 0 && datum.s != '0°'"}],
    "mark":{"type":"point","shape":"circle","filled":false,"size":30,"strokeWidth":1},
    "encoding":{
     "x":{"field":"f","type":"quantitative","axis":null},
     "y":{"field":"p","type":"quantitative","axis":null},
     "color":{"field":"s","type":"nominal","legend":null}}},
   {"data":{"name":"b_dot"},"mark":{"type":"line","strokeWidth":1.5,"strokeDash":[2,2]},
    "encoding":{
     "x":{"field":"f","type":"quantitative","axis":null},
     "y":{"field":"p","type":"quantitative","axis":null},
     "color":{"field":"s","type":"nominal","legend":null}}},
   {"data":{"name":"b_leg"},"mark":{"type":"text","align":"left","baseline":"middle","fontSize":18.5,"font":"Liberation Serif"},
    "encoding":{
     "x":{"field":"f","type":"quantitative","axis":null},
     "y":{"field":"p","type":"quantitative","axis":null},
     "text":{"field":"t"},
     "color":{"field":"s","type":"nominal","legend":null}}},
   {"data":{"name":"b_samp_cfi"},"mark":{"type":"rule","color":"#000000","strokeWidth":1},
    "encoding":{
     "x":{"field":"f","type":"quantitative","axis":null},
     "x2":{"field":"f2"},
     "y":{"field":"p","type":"quantitative","axis":null}}},
   {"data":{"name":"b_samp_stf"},"mark":{"type":"rule","color":"#000000","strokeWidth":1,"strokeDash":[5,4]},
    "encoding":{
     "x":{"field":"f","type":"quantitative","axis":null},
     "x2":{"field":"f2"},
     "y":{"field":"p","type":"quantitative","axis":null}}},
   {"data":{"name":"b_samppt"},"mark":{"type":"point","shape":"circle","filled":false,"size":30,"strokeWidth":1,"color":"#000000"},
    "encoding":{
     "x":{"field":"f","type":"quantitative","axis":null},
     "y":{"field":"p","type":"quantitative","axis":null}}}
  ]
 }]
},
{"title":{"text":"c)","orient":"bottom","fontSize":22,"anchor":"start","dx":365,"offset":14},
 "vconcat":[{
  "title":{"text":"membrane: 4mm Sh 40° A560 (Semperit)","frame":"group","offset":5},
  "width":686,"height":373,
  "resolve":{"axis":{"x":"independent","y":"independent"}},
  "layer":[
   {"data":{"name":"c_pts"},"mark":{"type":"line","color":"#ff0000","strokeWidth":1},
    "encoding":{
     "x":{"field":"p","type":"quantitative","scale":{"domain":[0,0.55],"nice":false,"zero":false},"axis":{"values":[0,0.1,0.2,0.3,0.4,0.5],"format":"~g","title":"pressure difference p [bar]","labelFont":"Liberation Serif, serif","titleFont":"Liberation Serif, serif","labelFontSize":19,"titleFontSize":19.5,"labelPadding":18,"titlePadding":6}},
     "y":{"field":"q","type":"quantitative","scale":{"domain":[0,25],"nice":false,"zero":false},"axis":{"values":[0,5,10,15,20,25],"format":"~g","title":"flow rate Q [m^3/h]","labelFont":"Liberation Serif, serif","titleFont":"Liberation Serif, serif","labelFontSize":19,"titleFontSize":18,"labelPadding":19,"titlePadding":18}},
     "detail":{"field":"hz","type":"nominal"}}},
   {"data":{"name":"c_pts"},"mark":{"type":"point","shape":"diamond","filled":false,"color":"#ff0000","size":90,"strokeWidth":1},
    "encoding":{
     "x":{"field":"p","type":"quantitative","axis":{"orient":"top","labels":false,"title":null,"values":[0,0.1,0.2,0.3,0.4,0.5]}},
     "y":{"field":"q","type":"quantitative","axis":{"orient":"right","labels":false,"title":null,"values":[0,5,10,15,20,25]}}}},
   {"data":{"name":"c_lab"},"mark":{"type":"text","align":"left","baseline":"middle","fontSize":23,"color":"#000000","font":"Liberation Serif"},
    "encoding":{
     "x":{"field":"p","type":"quantitative","axis":null},
     "y":{"field":"q","type":"quantitative","axis":null},
     "text":{"field":"t"}}}
  ]
 }]
}
],
"config":{
 "font":"Liberation Serif",
 "view":{"stroke":null},
 "style":{"guide-label":{"font":"Liberation Serif"},"guide-title":{"font":"Liberation Serif"}},
 "axis":{"grid":false,"domainColor":"#000000","domainWidth":1,"tickColor":"#000000","tickSize":-9,"tickWidth":1,"labelColor":"#000000","titleColor":"#000000","labelFont":"Liberation Serif","titleFont":"Liberation Serif","labelFontSize":19,"titleFontSize":18,"titleFontWeight":"normal","labelFlush":false,"labelOverlap":false},
 "title":{"font":"Liberation Serif","fontSize":19,"fontWeight":"normal","color":"#000000","anchor":"middle"},
 "text":{"font":"Liberation Serif"}
}
}
